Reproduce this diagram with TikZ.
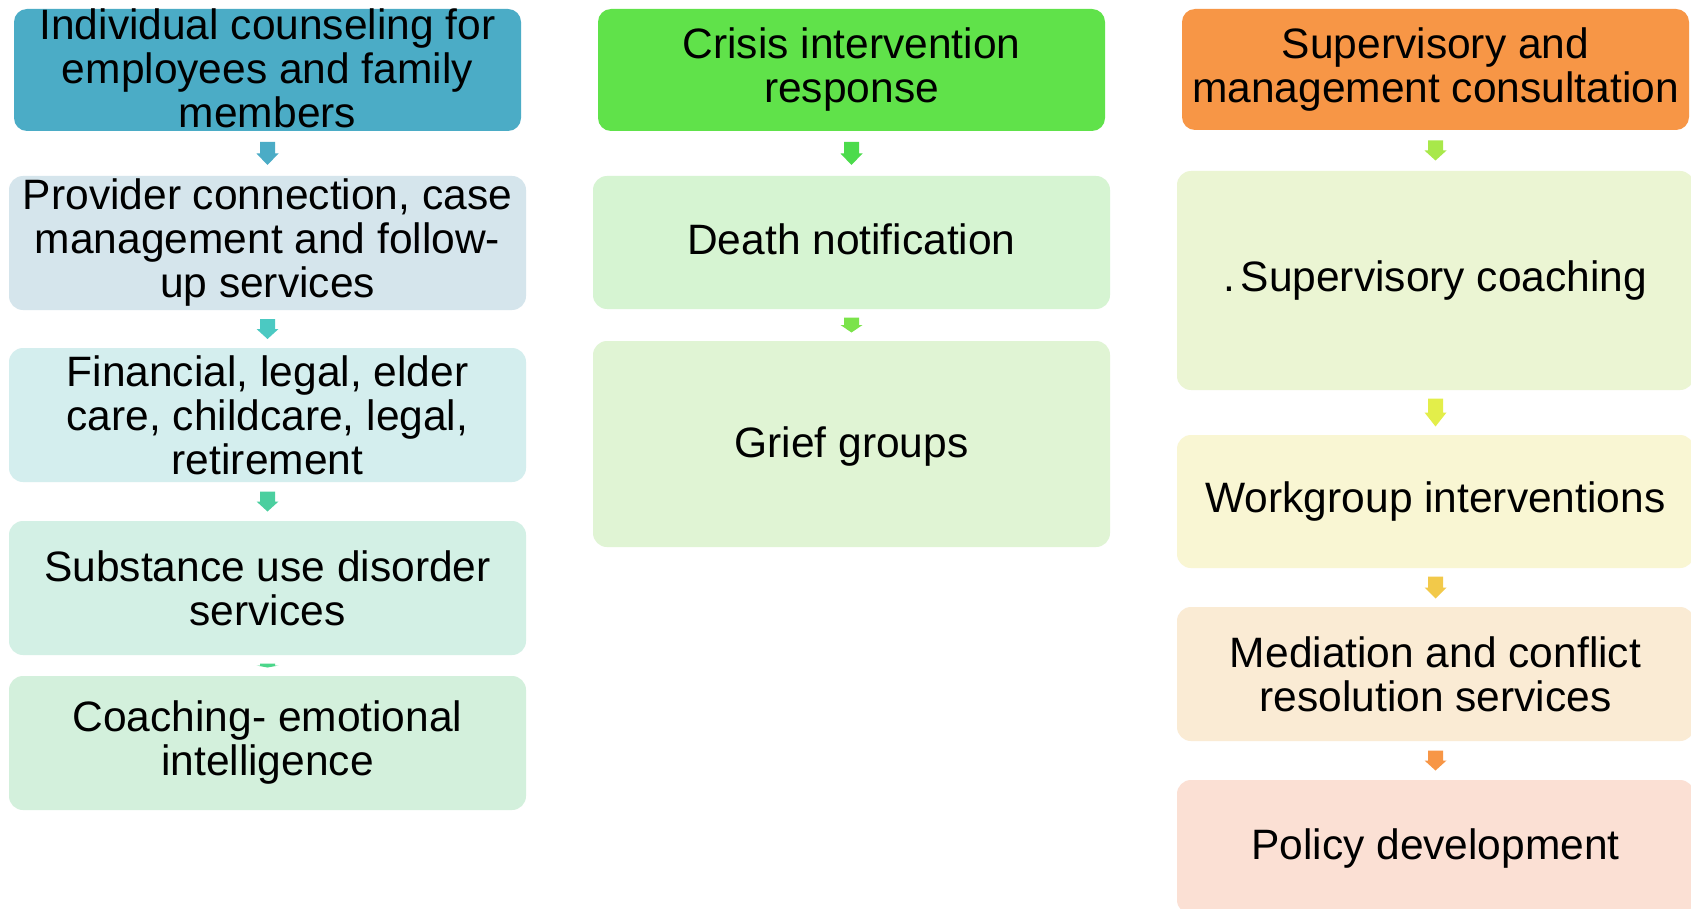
\documentclass[tikz,border=0pt]{standalone}
\usepackage{fontspec}
\setmainfont{Liberation Sans}
\usetikzlibrary{calc}
\definecolor{hL}{HTML}{4BACC6}
\definecolor{hM}{HTML}{60E24A}
\definecolor{hR}{HTML}{F79646}
\definecolor{bLa}{HTML}{D5E5EC}
\definecolor{bLb}{HTML}{D4EEEE}
\definecolor{bLc}{HTML}{D3F0E5}
\definecolor{bLd}{HTML}{D3F0DC}
\definecolor{aLa}{HTML}{4BACC6}
\definecolor{aLb}{HTML}{4BC9C2}
\definecolor{aLc}{HTML}{4BCF9F}
\definecolor{aLd}{HTML}{4BD68A}
\definecolor{bMa}{HTML}{D6F4D2}
\definecolor{bMb}{HTML}{E0F4D4}
\definecolor{aMa}{HTML}{4BDB4B}
\definecolor{aMb}{HTML}{7BE34A}
\definecolor{bRa}{HTML}{EBF5D3}
\definecolor{bRb}{HTML}{F9F6D3}
\definecolor{bRc}{HTML}{FAEBD4}
\definecolor{bRd}{HTML}{FBE0D4}
\definecolor{aRa}{HTML}{A8E84A}
\definecolor{aRb}{HTML}{E3EE4A}
\definecolor{aRc}{HTML}{F2C94A}
\definecolor{aRd}{HTML}{F79646}
\newcommand{\flowarrow}[4]{%
  \fill[#4] let \p3=($(#1.south)!0.5!(#2.north)$) in
   (\x3-7.5pt,\y3+#3pt/2) -- (\x3+7.5pt,\y3+#3pt/2) -- (\x3+7.5pt,\y3) -- (\x3+11pt,\y3)
   -- (\x3,\y3-#3pt/2) -- (\x3-11pt,\y3) -- (\x3-7.5pt,\y3) -- cycle;}
\tikzset{
  headbox/.style={rounded corners=13pt, minimum width=507pt, minimum height=122pt, inner sep=0pt, draw=none},
  bodybox/.style={rounded corners=14pt, minimum width=517pt, minimum height=134pt, inner sep=0pt, draw=none},
  txt/.style={align=center, inner sep=0pt, text=black, font=\fontsize{42.5}{44}\selectfont}
}
\begin{document}
\begin{tikzpicture}[x=1pt,y=-1pt]
\useasboundingbox (0,0) rectangle (1691,909);
\clip (0,0) rectangle (1691,909);
\fill[white] (0,0) rectangle (1691,909);
% left column
\node[headbox, fill=hL] (l1) at (267.5,70) {};
\node[bodybox, fill=bLa] (l2) at (267.5,243) {};
\node[bodybox, fill=bLb] (l3) at (267.5,415) {};
\node[bodybox, fill=bLc] (l4) at (267.5,588) {};
\node[bodybox, fill=bLd] (l5) at (267.5,743) {};
\node[txt] (tl1) at ($(l1)+(0,-2)$) {Individual counseling for\\employees and family\\members};
\node[txt] (tl2) at (l2) {Provider connection, case\\management and follow-\\up services};
\node[txt] (tl3) at (l3) {Financial, legal, elder\\care, childcare, legal,\\retirement};
\node[txt] (tl4) at (l4) {Substance use disorder\\services};
\node[txt] (tl5) at (l5) {Coaching- emotional\\intelligence};
\flowarrow{l1}{l2}{23}{aLa}
\flowarrow{l2}{l3}{20}{aLb}
\flowarrow{l3}{l4}{20}{aLc}
\flowarrow{l4}{l5}{4}{aLd}
% middle column
\node[headbox, fill=hM] (m1) at (851.5,70) {};
\node[bodybox, fill=bMa, minimum height=133pt] (m2) at (851.5,242.5) {};
\node[bodybox, fill=bMb, minimum height=206pt] (m3) at (851.5,444) {};
\node[txt] (tm1) at (m1) {Crisis intervention\\response};
\node[txt] (tm2) at ($(m2)+(0,-3)$) {Death notification};
\node[txt] (tm3) at ($(m3)+(0,3)$) {Grief groups};
\flowarrow{m1}{m2}{23}{aMa}
\flowarrow{m2}{m3}{15}{aMb}
% right column
\node[headbox, fill=hR, minimum height=121pt] (r1) at (1435.5,69.5) {};
\node[bodybox, fill=bRa, minimum height=219pt] (r2) at (1435.5,280.5) {};
\node[bodybox, fill=bRb, minimum height=133pt] (r3) at (1435.5,501.5) {};
\node[bodybox, fill=bRc] (r4) at (1435.5,674) {};
\node[bodybox, fill=bRd] (r5) at (1435.5,847) {};
\node[txt] (tr1) at (r1) {Supervisory and\\management consultation};
\node[txt] (tr2) at (r2) {.\hspace{5pt}Supervisory coaching};
\node[txt] (tr3) at (r3) {Workgroup interventions};
\node[txt] (tr4) at (r4) {Mediation and conflict\\resolution services};
\node[txt] (tr5) at ($(r5)+(0,2)$) {Policy development};
\flowarrow{r1}{r2}{20}{aRa}
\flowarrow{r2}{r3}{28}{aRb}
\flowarrow{r3}{r4}{22}{aRc}
\flowarrow{r4}{r5}{20}{aRd}
\end{tikzpicture}
\end{document}
